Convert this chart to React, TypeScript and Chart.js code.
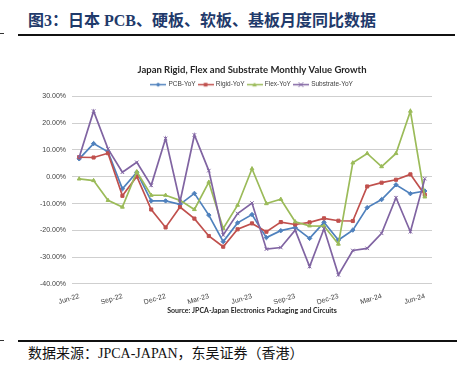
import React, { useEffect, useRef } from "react";
import { Chart, registerables } from "chart.js";

Chart.register(...registerables);

const months = [
  "Jun-22", "Jul-22", "Aug-22", "Sep-22", "Oct-22", "Nov-22", "Dec-22",
  "Jan-23", "Feb-23", "Mar-23", "Apr-23", "May-23", "Jun-23", "Jul-23",
  "Aug-23", "Sep-23", "Oct-23", "Nov-23", "Dec-23", "Jan-24", "Feb-24",
  "Mar-24", "Apr-24", "May-24", "Jun-24",
];

const pcbYoY = [6.7, 12.4, 9.3, -4.5, 1.7, -9.0, -9.0, -10.3, -6.2, -14.3, -24.2, -17.2, -14.1, -22.7, -20.1, -18.9, -23.0, -17.0, -23.6, -19.9, -11.5, -8.5, -3.0, -6.3, -5.3];
const rigidYoY = [7.3, 7.2, 8.8, -7.1, 0.1, -12.2, -18.9, -11.3, -15.6, -22.1, -26.1, -19.6, -17.4, -20.5, -16.9, -17.8, -17.0, -15.5, -16.4, -16.5, -3.6, -2.2, -1.1, 0.9, -6.7];
const flexYoY = [-0.8, -1.4, -8.8, -11.3, 1.9, -6.9, -6.9, -8.8, -12.2, -2.0, -19.3, -10.6, 3.0, -10.0, -8.4, -16.8, -18.3, -18.4, -25.1, 5.2, 8.7, 3.8, 8.7, 24.5, -7.5];
const substrateYoY = [7.3, 24.5, 10.4, 1.7, 5.4, -3.2, 14.3, -9.3, 15.6, 2.3, -21.7, -13.7, -9.8, -27.0, -26.4, -19.9, -33.5, -19.4, -36.6, -27.5, -26.7, -21.1, -7.8, -20.5, -0.7];

const seriesNames = ["PCB-YoY", "Rigid-YoY", "Flex-YoY", "Substrate-YoY"];
const seriesColors = ["#4F81BD", "#C0504D", "#9BBB59", "#8064A2"];
const seriesMarkers = ["rectRot", "rect", "triangle", "crossRot"];

const yMin = -40;
const yMax = 30;
const yStep = 10;

const chartTitle = "Japan Rigid, Flex and Substrate Monthly Value Growth";
const sourceText = "Source: JPCA-Japan Electronics Packaging and Circuits";
const headerText = "图3：日本 PCB、硬板、软板、基板月度同比数据";
const footerText = "数据来源：JPCA-JAPAN，东吴证券（香港）";

function legendIcon(color: string, marker: string): HTMLCanvasElement {
  const c = document.createElement("canvas");
  c.width = 16;
  c.height = 7;
  const ctx = c.getContext("2d")!;
  ctx.strokeStyle = color;
  ctx.fillStyle = color;
  ctx.lineWidth = 1.5;
  ctx.beginPath();
  ctx.moveTo(0, 3.5);
  ctx.lineTo(16, 3.5);
  ctx.stroke();
  const cx = 8, cy = 3.5, r = 2.3;
  ctx.beginPath();
  if (marker === "rectRot") {
    ctx.moveTo(cx, cy - r);
    ctx.lineTo(cx + r, cy);
    ctx.lineTo(cx, cy + r);
    ctx.lineTo(cx - r, cy);
    ctx.closePath();
    ctx.fill();
  } else if (marker === "rect") {
    ctx.rect(cx - r * 0.8, cy - r * 0.8, r * 1.6, r * 1.6);
    ctx.fill();
  } else if (marker === "triangle") {
    ctx.moveTo(cx, cy - r);
    ctx.lineTo(cx + r, cy + r * 0.8);
    ctx.lineTo(cx - r, cy + r * 0.8);
    ctx.closePath();
    ctx.fill();
  } else {
    ctx.lineWidth = 1;
    ctx.moveTo(cx - r, cy - r);
    ctx.lineTo(cx + r, cy + r);
    ctx.moveTo(cx + r, cy - r);
    ctx.lineTo(cx - r, cy + r);
    ctx.stroke();
  }
  return c;
}

function ChartBox() {
  const ref = useRef<HTMLCanvasElement | null>(null);
  useEffect(() => {
    if (!ref.current) return;
    const allSeries = [pcbYoY, rigidYoY, flexYoY, substrateYoY];
    const chart = new Chart(ref.current, {
      type: "line",
      data: {
        labels: months,
        datasets: allSeries.map((d, i) => ({
          label: seriesNames[i],
          data: d,
          borderColor: seriesColors[i],
          backgroundColor: seriesColors[i],
          pointBackgroundColor: seriesColors[i],
          pointBorderColor: seriesColors[i],
          pointStyle: seriesMarkers[i] as any,
          pointRadius: i === 3 ? 2.5 : 2.2,
          pointBorderWidth: 1,
          borderWidth: 1.7,
          tension: 0,
          fill: false,
          order: 3 - i,
        })),
      },
      options: {
        animation: false,
        responsive: false,
        maintainAspectRatio: false,
        layout: { padding: { top: -1, bottom: 0, left: 0, right: 0 } },
        plugins: {
          title: {
            display: true,
            text: chartTitle,
            color: "#262626",
            font: { family: "Lato", size: 9.5, weight: "bold" },
            padding: { top: 10, bottom: 3 },
          },
          subtitle: {
            display: true,
            position: "bottom",
            text: sourceText,
            color: "#262626",
            font: { family: "Lato", size: 7, weight: "bold" },
            padding: { top: 0, bottom: 10 },
          },
          legend: {
            display: true,
            position: "top",
            maxHeight: 18,
            labels: {
              usePointStyle: true,
              pointStyleWidth: 14,
              boxHeight: 7,
              padding: 3,
              color: "#404040",
              font: { family: "Liberation Sans", size: 6.5 },
              sort: (a: any, b: any) => a.datasetIndex - b.datasetIndex,
              generateLabels: (ch: any) => {
                const items = Chart.defaults.plugins.legend.labels.generateLabels(ch);
                return items.map((it: any) => ({
                  ...it,
                  pointStyle: legendIcon(seriesColors[it.datasetIndex], seriesMarkers[it.datasetIndex]),
                }));
              },
            },
          },
          tooltip: { enabled: false },
        },
        scales: {
          x: {
            offset: true,
            grid: { display: false },
            border: { display: false },
            ticks: {
              autoSkip: false,
              minRotation: 17,
              maxRotation: 17,
              padding: 0,
              color: "#404040",
              font: { family: "Liberation Sans", size: 7 },
              callback: function (this: any, value: any, index: number) {
                return index % 3 === 0 ? this.getLabelForValue(value) : "";
              },
            },
          },
          y: {
            min: yMin,
            max: yMax,
            grid: { color: "#cfcfcf", lineWidth: 1, drawTicks: false },
            border: { display: false },
            ticks: {
              stepSize: yStep,
              padding: 6,
              color: "#404040",
              font: { family: "Liberation Sans", size: 7 },
              callback: (v: any) => Number(v).toFixed(2) + "%",
            },
            afterFit: (s: any) => {
              s.width = 42;
            },
          },
          y2: {
            position: "right",
            display: true,
            grid: { display: false },
            border: { display: false },
            ticks: { display: false },
            afterFit: (s: any) => {
              s.width = 42;
            },
          },
        },
      },
    });
    return () => chart.destroy();
  }, []);
  return (
    <canvas
      ref={ref}
      width={444}
      height={270}
      style={{ position: "absolute", left: 30, top: 55, width: 444, height: 270 }}
    />
  );
}

export default function App() {
  return (
    <div
      style={{
        position: "fixed",
        left: 0,
        top: 0,
        width: 461,
        height: 374,
        overflow: "hidden",
        background: "#ffffff",
      }}
    >
      <div
        style={{
          position: "absolute",
          left: 28,
          top: 9,
          fontFamily: "'Liberation Serif', 'Noto Sans CJK SC', serif",
          fontWeight: 700,
          fontSize: 16,
          lineHeight: "24px",
          color: "#1F3A6B",
          whiteSpace: "nowrap",
        }}
      >
        {headerText}
      </div>
      <div style={{ position: "absolute", left: 0, top: 33, width: 4, height: 1, background: "#333" }} />
      <div style={{ position: "absolute", left: 18, top: 34, width: 437, height: 2, background: "#111" }} />
      <ChartBox />
      <div style={{ position: "absolute", left: 0, top: 340, width: 4, height: 1, background: "#333" }} />
      <div style={{ position: "absolute", left: 18, top: 340, width: 439, height: 2, background: "#111" }} />
      <div
        style={{
          position: "absolute",
          left: 28,
          top: 344,
          fontFamily: "'Liberation Serif', 'Noto Sans CJK SC', serif",
          fontSize: 14,
          lineHeight: "20px",
          color: "#111",
          whiteSpace: "nowrap",
        }}
      >
        {footerText}
      </div>
    </div>
  );
}
